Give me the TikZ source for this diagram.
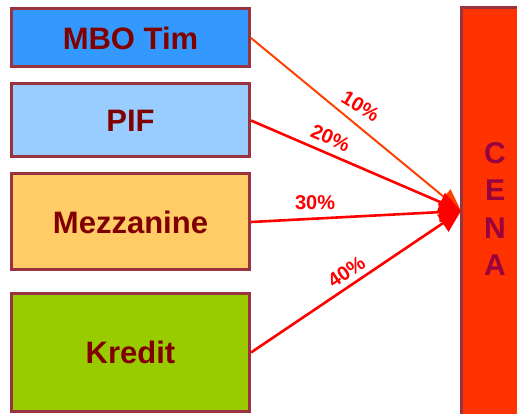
\documentclass[tikz,border=0pt]{standalone}
\usepackage{tikz}
\usepackage{xcolor}
\usepackage{fontspec}
\setmainfont{Liberation Sans}
\usetikzlibrary{arrows.meta}

\definecolor{frame}{HTML}{993340}
\definecolor{txt}{HTML}{800000}
\definecolor{tim}{HTML}{3399FF}
\definecolor{pif}{HTML}{99CCFF}
\definecolor{mezz}{HTML}{FFCC66}
\definecolor{kred}{HTML}{99CC00}
\definecolor{cena}{HTML}{FF3300}
\definecolor{cenatxt}{HTML}{990040}
\definecolor{orangered}{RGB}{255,64,0}

\tikzset{
  source/.style={draw=frame, line width=3pt, minimum width=238pt, inner sep=0pt,
    font=\fontsize{31}{33}\selectfont\bfseries, text=txt},
  share/.style={line width=2.6pt, red, -{Triangle[length=22pt,width=20pt]}},
  pct/.style={font=\fontsize{20}{22}\selectfont\bfseries, text=red, inner sep=1pt}
}

\begin{document}
\begin{tikzpicture}[x=1pt, y=-1pt]
      \useasboundingbox (0,0) rectangle (517,414);
      % sources of financing
      \node[source, fill=tim, minimum height=58pt] (tim) at (130.5,38) {MBO Tim};
      \node[source, fill=pif, minimum height=73pt] (pif) at (130.5,120.5) {PIF};
      \node[source, fill=mezz, minimum height=96pt] (mezz) at (130.5,222) {Mezzanine};
      \node[source, fill=kred, minimum height=117pt] (kred) at (130.5,352.5) {Kredit};
      % price column
      \node[draw=frame, line width=3pt, fill=cena, minimum width=70pt, minimum height=430pt,
        inner sep=0pt] (cena) at (496,223) {};
      \node[text=cenatxt, font=\fontsize{30}{37.5}\selectfont\bfseries, align=center]
        (word) at (495,209) {C\\E\\N\\A};
      \coordinate (tip) at (461,211);
      % shares
      \draw[share, line width=2pt, color=orangered] (tim.east) -- (tip)
        node[pct, pos=0.48, rotate=-31, above=8pt] {10\%};
      \draw[share] (pif.east) -- (tip) node[pct, pos=0.35, sloped, above=6pt] {20\%};
      \draw[share] (mezz.east) -- (tip) node[pct, pos=0.305, above=7pt] {30\%};
      \draw[share] (kred.east) -- (tip) node[pct, pos=0.49, sloped, above=4pt] {40\%};
\end{tikzpicture}
\end{document}
